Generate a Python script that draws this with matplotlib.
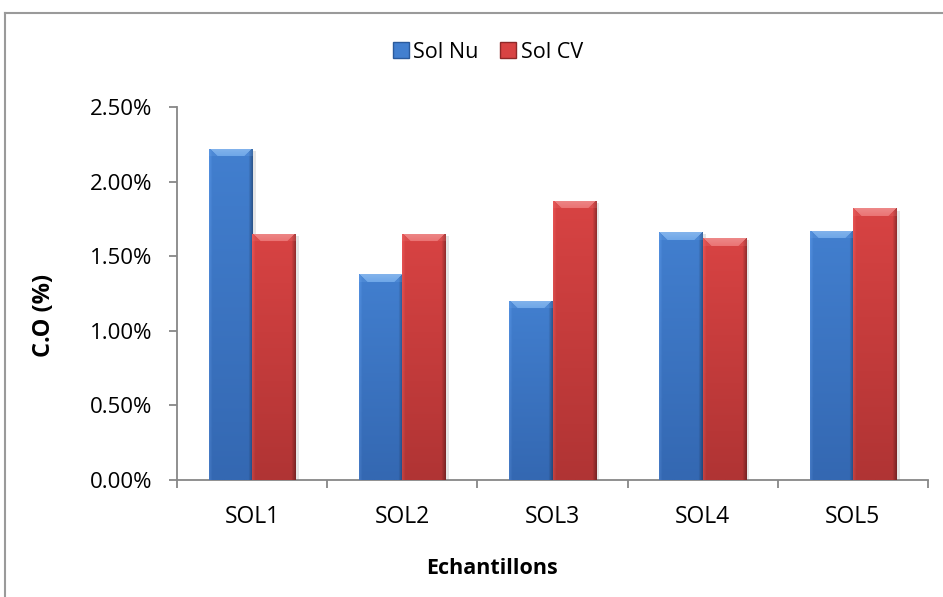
import numpy as np
import matplotlib
matplotlib.use("Agg")
import matplotlib.pyplot as plt
from matplotlib.patches import Patch
from matplotlib.lines import Line2D
from matplotlib.ticker import PercentFormatter, FixedLocator
from matplotlib import patheffects as pe
from matplotlib.colors import to_rgb

plt.rcParams['font.family'] = ['Open Sans', 'DejaVu Sans']

# data (C.O in %)
samples = ['SOL1', 'SOL2', 'SOL3', 'SOL4', 'SOL5']
sol_nu = [2.22, 1.38, 1.20, 1.66, 1.67]
sol_cv = [1.65, 1.65, 1.87, 1.62, 1.82]
series_names = ['Sol Nu', 'Sol CV']

colors = {
    'Sol Nu': {'top': '#427fcf', 'bot': '#3468b2', 'cap': '#6da6e8', 'edge': '#2a5a9c'},
    'Sol CV': {'top': '#d84343', 'bot': '#b03434', 'cap': '#ea7272', 'edge': '#8e2828'},
}

W, H = 943, 597
fig = plt.figure(figsize=(W / 100, H / 100), dpi=100)
ax = fig.add_axes([177 / W, 1 - 480 / H, (928 - 177) / W, (480 - 107) / H])

x = np.arange(len(samples))
bw = 0.288
ax.set_xlim(-0.5, len(samples) - 0.5)
ax.set_ylim(0, 2.5)


def shade_bar(rect, c):
    # excel-like bevel: vertical gradient, lighter top cap, darker right side
    x0, y0 = rect.get_x(), rect.get_y()
    w, h = rect.get_width(), rect.get_height()
    p0 = ax.transData.transform((x0, y0))
    p1 = ax.transData.transform((x0 + w, y0 + h))
    nx = max(int(round(p1[0] - p0[0])), 2)
    ny = max(int(round(p1[1] - p0[1])), 2)
    top, bot, cap = np.array(to_rgb(c['top'])), np.array(to_rgb(c['bot'])), np.array(to_rgb(c['cap']))
    t = np.linspace(0, 1, ny)[:, None, None]  # 0 at top
    img = top * (1 - t) + bot * t
    img = np.repeat(img, nx, axis=1)
    u = np.arange(nx)[None, :]
    v = nx - 1 - u
    # darker right edge, slightly lighter left edge
    dark = np.clip((4 - v) / 4, 0, 1)[0]
    light = np.clip((3 - u) / 3, 0, 1)[0]
    img = img * (1 - 0.3 * dark[None, :, None]) + 0.06 * light[None, :, None]
    cap_px = 8
    d = np.arange(ny)[:, None]
    band = d < cap_px
    inside = band & (u > d) & (v > d)
    sides = band & ~inside
    capgrad = (1 - d / cap_px)[..., None] * 0.15
    capcol = cap[None, None, :] * (1 - capgrad) + capgrad
    img = np.where(inside[..., None], capcol * np.ones_like(img), img)
    img = np.where(sides[..., None], img * 0.75 + cap * 0.25, img)
    img = np.clip(img, 0, 1)
    im = ax.imshow(img, extent=(x0, x0 + w, y0, y0 + h), origin='upper',
                   aspect='auto', interpolation='bilinear', zorder=3)
    im.set_clip_path(rect)


shadow = [pe.SimplePatchShadow(offset=(2.5, -1.5), shadow_rgbFace='#aaaaaa', alpha=0.3), pe.Normal()]
for i, (name, vals) in enumerate(zip(series_names, [sol_nu, sol_cv])):
    c = colors[name]
    bars = ax.bar(x + (i - 0.5) * bw, vals, bw, color=c['top'], edgecolor='none', zorder=2)
    for b in bars:
        b.set_path_effects(shadow)
        shade_bar(b, c)

ax.set_xlim(-0.5, len(samples) - 0.5)
ax.set_ylim(0, 2.5)

# axes styling
for s in ['top', 'right']:
    ax.spines[s].set_visible(False)
for s in ['left', 'bottom']:
    ax.spines[s].set_color('#878787')
    ax.spines[s].set_linewidth(1.3)

ax.set_yticks(np.arange(0, 2.51, 0.5))
ax.yaxis.set_major_formatter(PercentFormatter(xmax=100, decimals=2))
ax.tick_params(axis='y', length=6, width=1.3, color='#878787', labelsize=16, pad=12)

ax.xaxis.set_major_locator(FixedLocator(np.arange(-0.5, len(samples), 1.0)))
ax.xaxis.set_minor_locator(FixedLocator(x))
ax.set_xticklabels([''] * (len(samples) + 1))
ax.set_xticklabels(samples, minor=True)
ax.tick_params(axis='x', which='major', length=6, width=1.3, color='#878787')
ax.tick_params(axis='x', which='minor', length=0, labelsize=16.5, pad=18)

# axis titles
fig.text(44 / W, 1 - 315 / H, 'C.O (%)', rotation=90, ha='center', va='center',
         fontsize=17, fontweight='bold')
fig.text(492 / W, 1 - 568 / H, 'Echantillons', ha='center', va='center',
         fontsize=15.5, fontweight='bold')

# legend
handles = [Patch(facecolor=colors[n]['top'], edgecolor=colors[n]['edge'], label=n) for n in series_names]
fig.legend(handles=handles, loc='center', bbox_to_anchor=(488 / W, 1 - 52 / H), ncol=2,
           frameon=False, fontsize=15.5, handlelength=0.75, handleheight=0.75,
           handletextpad=0.2, columnspacing=1.0)

# chart frame (partly cropped in the original)
fig.add_artist(Line2D([5 / W, 5 / W], [0, 1 - 13 / H], transform=fig.transFigure,
                      color='#9a9a9a', lw=1.5))
fig.add_artist(Line2D([5 / W, 1], [1 - 13 / H, 1 - 13 / H], transform=fig.transFigure,
                      color='#9a9a9a', lw=1.5))

fig.savefig('out.png', dpi=100)
